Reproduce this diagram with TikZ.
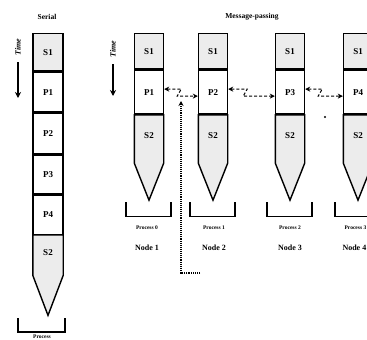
\documentclass[tikz,border=0pt]{standalone}
\usepackage{fontspec}
\setmainfont{Liberation Serif}
\usetikzlibrary{arrows.meta,calc}
\newcommand{\mpcolumn}[4]{%
  \node[sbox,anchor=north,minimum height=35pt] (#1s1) at (#2,33) {S1};
  \node[pbox,anchor=north,minimum height=44pt] (#1p) at (#1s1.south) {#3};
  \node[anchor=north,minimum height=48pt,minimum width=29pt,inner sep=0pt] (#1s2) at (#1p.south) {};
  \coordinate (#1tip) at ($(#1s2.south)+(0,37)$);
  \filldraw[colline,fill=sfill] (#1s2.north west) -- (#1s2.north east) -- (#1s2.south east) -- (#1tip) -- (#1s2.south west) -- cycle;
  \node[lbl] at ($(#1s2)+(0,-3)$) {S2};
  \coordinate (#1b1) at ($(#1s2.south)+(-23,39)$);
  \coordinate (#1b2) at ($(#1s2.south)+(-23,53)$);
  \coordinate (#1b3) at ($(#1s2.south)+(22,53)$);
  \coordinate (#1b4) at ($(#1s2.south)+(22,39)$);
  \draw[brk] (#1b1) -- (#1b2) -- (#1b3) -- (#1b4);
}
\begin{document}
\begin{tikzpicture}[x=1pt,y=-1pt,
  colline/.style={draw,line width=1.4pt},
  cell/.style={colline,minimum width=29pt,inner sep=0pt,font=\bfseries\fontsize{9}{9}\selectfont},
  sbox/.style={cell,fill=sfill},
  pbox/.style={cell,fill=white},
  lbl/.style={font=\bfseries\fontsize{9}{9}\selectfont,inner sep=0pt},
  brk/.style={line width=1.3pt},
  proclbl/.style={font=\bfseries\fontsize{5.5}{6}\selectfont,inner sep=0pt},
  nodelbl/.style={font=\bfseries\fontsize{8}{9}\selectfont,inner sep=0pt},
  title/.style={font=\bfseries\fontsize{7.5}{8}\selectfont,inner sep=0pt},
  timelbl/.style={font=\bfseries\itshape\fontsize{8}{8}\selectfont,inner sep=0pt,rotate=90},
  timearr/.style={line width=1.5pt,-{Stealth[length=6pt,width=6pt]}},
  msg/.style={line width=1pt,densely dashed,{Stealth[length=5pt,width=5pt]}-{Stealth[length=5pt,width=5pt]}},
  dotarr/.style={line width=1.1pt,densely dotted,-{Stealth[length=5pt,width=5pt]}}
]
\colorlet{sfill}{gray!15}
\useasboundingbox (0,0) rectangle (367,340);

% ---------- Serial ----------
\node[title] (serialtitle) at (47,17) {Serial};
\node[sbox,anchor=north,minimum width=30pt,minimum height=37pt] (ss1) at (48,33) {S1};
\node[pbox,anchor=north,minimum width=30pt,minimum height=40pt] (sp1) at (ss1.south) {P1};
\node[pbox,anchor=north,minimum width=30pt,minimum height=40pt] (sp2) at (sp1.south) {P2};
\node[pbox,anchor=north,minimum width=30pt,minimum height=39pt] (sp3) at (sp2.south) {P3};
\node[pbox,anchor=north,minimum width=30pt,minimum height=39pt] (sp4) at (sp3.south) {P4};
\node[anchor=north,minimum width=30pt,minimum height=40pt,inner sep=0pt] (ss2) at (sp4.south) {};
\coordinate (stip) at ($(ss2.south)+(0,40)$);
\filldraw[colline,fill=sfill] (ss2.north west) -- (ss2.north east) -- (ss2.south east) -- (stip) -- (ss2.south west) -- cycle;
\node[lbl] at ($(ss2)+(0,-3)$) {S2};
\coordinate (sb1) at (18,318);
\coordinate (sb2) at (18,332);
\coordinate (sb3) at (65,332);
\coordinate (sb4) at (65,318);
\draw[brk] (sb1) -- (sb2) -- (sb3) -- (sb4);
\node[proclbl] (sproc) at (42,337) {Process};
\node[timelbl] (stime) at (18,47) {Time};
\coordinate (sta) at (18,62);
\coordinate (stb) at (18,98);
\draw[timearr] (sta) -- (stb);

% ---------- Message-passing ----------
\node[title] (mptitle) at (252,17) {Message-passing};
\node[timelbl] (mtime) at (113,49) {Time};
\coordinate (mta) at (113,64);
\coordinate (mtb) at (113,96);
\draw[timearr] (mta) -- (mtb);

\mpcolumn{a}{149}{P1}{0}
\mpcolumn{b}{213}{P2}{1}
\mpcolumn{c}{290}{P3}{2}
\mpcolumn{d}{358}{P4}{3}

\node[proclbl] (aproc) at (147,228) {Process 0};
\node[proclbl] (bproc) at (214,228) {Process 1};
\node[proclbl] (cproc) at (290,228) {Process 2};
\node[proclbl,anchor=east] (dproc) at (366.5,228) {Process 3};

\node[nodelbl] (n1) at (147,248) {Node 1};
\node[nodelbl] (n2) at (214,248) {Node 2};
\node[nodelbl] (n3) at (290,248) {Node 3};
\node[nodelbl,anchor=east] (n4) at (366.5,248) {Node 4};

% messages
\draw[msg] ([yshift=3pt]ap.east) -- ++(17,0) -- ++(-4,7) -- ([yshift=-4pt]bp.west);
\draw[msg] ([yshift=3pt]bp.east) -- ++(19,0) -- ++(-4,7) -- ([yshift=-4pt]cp.west);
\draw[msg] ([yshift=3pt]cp.east) -- ++(17,0) -- ++(-4,7) -- ([yshift=-4pt]dp.west);

% dotted pointer
\coordinate (dotend) at (200,273);
\coordinate (msgpt) at (181,101);
\draw[dotarr] (dotend) -| (msgpt);

\fill (325,117) circle (1.2pt);
\end{tikzpicture}
\end{document}
